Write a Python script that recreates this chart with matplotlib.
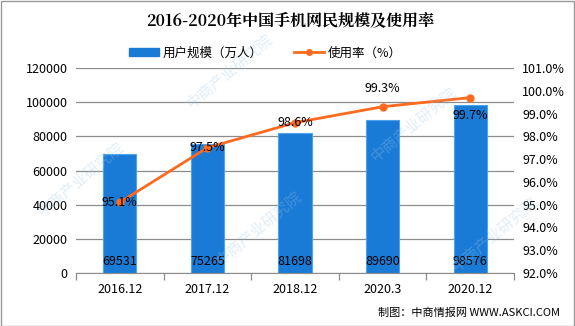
import matplotlib
matplotlib.use("Agg")
import matplotlib.pyplot as plt
from matplotlib.lines import Line2D
from matplotlib.patches import Patch, Rectangle
import numpy as np

plt.rcParams['font.family'] = ['Noto Sans CJK SC', 'DejaVu Sans']

categories = ["2016.12", "2017.12", "2018.12", "2020.3", "2020.12"]
users = [69531, 75265, 81698, 89690, 98576]
rate = [95.1, 97.5, 98.6, 99.3, 99.7]
left_ticks = [0, 20000, 40000, 60000, 80000, 100000, 120000]
right_ticks = [92, 93, 94, 95, 96, 97, 98, 99, 100, 101]

bar_color = "#1a7bd7"
line_color = "#fd6a1f"
grid_color = "#8c8c8c"

fig = plt.figure(figsize=(5.75, 3.26), dpi=100)
W, H = 575, 326
ax = fig.add_axes([76 / W, 1 - 273 / H, (514 - 76) / W, (273 - 68) / H])
ax2 = ax.twinx()

x = np.arange(len(categories))
ax.bar(x, users, width=0.38, color=bar_color, edgecolor="#4da3f0", linewidth=0.8, zorder=2)
ax.set_xlim(-0.5, len(categories) - 0.5)
ax.set_ylim(0, 120000)
ax.set_yticks(left_ticks)
ax.set_yticklabels([str(v) for v in left_ticks], fontsize=9)
ax.yaxis.grid(True, color=grid_color, linewidth=0.9, zorder=0)
ax.set_axisbelow(True)
ax.tick_params(axis="y", length=0, pad=6)
ax.set_xticks(x)
ax.set_xticklabels(categories, fontsize=9)
ax.set_xticks(np.arange(len(categories) + 1) - 0.5, minor=True)
ax.tick_params(axis="x", which="major", length=0, pad=7)
ax.tick_params(axis="x", which="minor", length=5, color=grid_color, width=0.9)
for s in ["top", "left", "right"]:
    ax.spines[s].set_visible(False)
ax.spines["bottom"].set_color(grid_color)

for xi, v in zip(x, users):
    ax.text(xi, 7000, str(v), ha="center", va="center", fontsize=9, color="black", zorder=5)

ax2.plot(x, rate, color=line_color, linewidth=2, marker="o", markersize=5, zorder=4)
ax2.set_ylim(92, 101)
ax2.set_yticks(right_ticks)
ax2.set_yticklabels([f"{v:.1f}%" for v in right_ticks], fontsize=9)
ax2.tick_params(axis="y", length=0, pad=6)
for s in ["top", "left", "right", "bottom"]:
    ax2.spines[s].set_visible(False)

offsets = [0, 0, 0, 0.8, -0.8]
for xi, v, off in zip(x, rate, offsets):
    ax2.text(xi, v + off, f"{v}%", ha="center", va="center", fontsize=9, color="black", zorder=6)

fig.text(290 / W, 1 - 21 / H, "2016-2020年中国手机网民规模及使用率", ha="center", va="center",
         fontsize=11.5, fontweight="bold", family=["Noto Serif CJK SC", "Noto Sans CJK SC", "DejaVu Serif"])

handles = [Patch(facecolor=bar_color, edgecolor=bar_color),
           Line2D([0], [0], color=line_color, linewidth=2, marker="o", markersize=4)]
fig.legend(handles, ["用户规模（万人）", "使用率（%）"], loc="center", bbox_to_anchor=(265 / W, 1 - 53 / H),
           ncol=2, frameon=False, fontsize=9, handlelength=2.4, handleheight=0.6, columnspacing=2.5,
           handletextpad=0.3)

fig.text(560 / W, 1 - 313 / H, "制图：中商情报网 WWW.ASKCI.COM", ha="right", va="center", fontsize=8)

# faint diagonal watermark, kept inside the frame
for wx, wy in [(0.14, 0.45), (0.40, 0.78), (0.45, 0.30), (0.72, 0.62), (0.86, 0.28)]:
    fig.text(wx, wy, "中商产业研究院", fontsize=11, color="#9ec4e4", alpha=0.3, rotation=40,
             ha="center", va="center")

fig.patches.append(Rectangle((0.5 / W, 0.5 / H), 1 - 1.5 / W, 1 - 1.5 / H, transform=fig.transFigure,
                             fill=False, edgecolor="#999999", linewidth=1))

fig.savefig("out.png", dpi=100)
